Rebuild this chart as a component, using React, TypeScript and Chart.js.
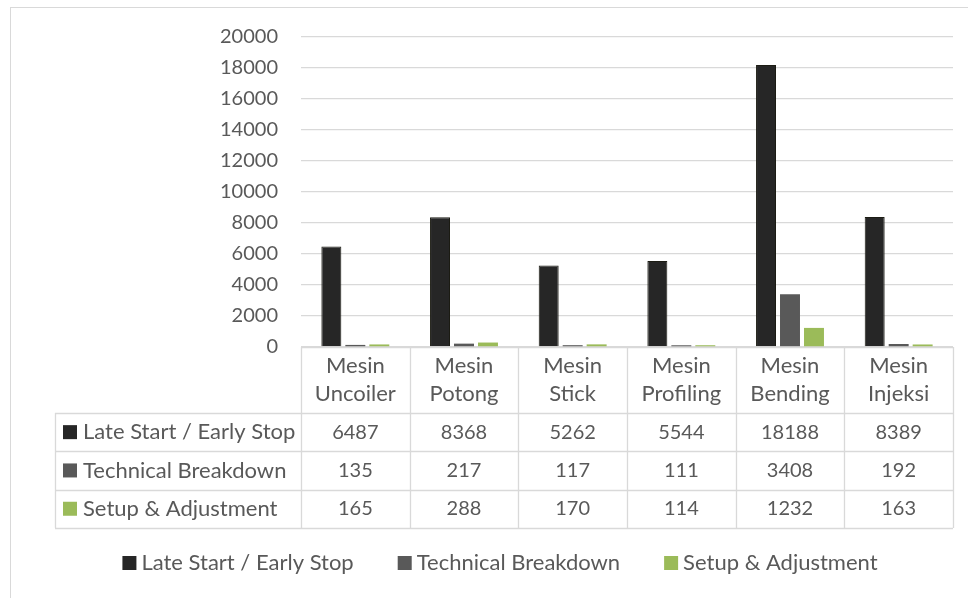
import { useEffect, useRef } from "react";
import { Chart, registerables } from "chart.js";

Chart.register(...registerables);

const categoryFirst = ["Mesin", "Mesin", "Mesin", "Mesin", "Mesin", "Mesin"];
const categorySecond = ["Uncoiler", "Potong", "Stick", "Profiling", "Bending", "Injeksi"];
const seriesNames = ["Late Start / Early Stop", "Technical Breakdown", "Setup & Adjustment"];
const lateStart = [6487, 8368, 5262, 5544, 18188, 8389];
const technicalBreakdown = [135, 217, 117, 111, 3408, 192];
const setupAdjustment = [165, 288, 170, 114, 1232, 163];
const seriesColors = ["#262626", "#595959", "#9bbb59"];
const yMin = 0;
const yMax = 20000;
const yStep = 2000;

const FONT = "Lato";
const TEXT = "#595959";
const GRID = "#d9d9d9";

const tablePlugin = {
  id: "dataTable",
  afterDraw(chart: any) {
    const { ctx, chartArea } = chart;
    const left = chartArea.left;
    const right = chartArea.right;
    const bottom = chartArea.bottom;
    const n = categorySecond.length;
    const w = (right - left) / n;
    const headerH = 66;
    const rowH = 38.3;
    const tableLeft = 55;
    const allSeries = [lateStart, technicalBreakdown, setupAdjustment];
    ctx.save();
    // outer frame
    ctx.strokeStyle = GRID;
    ctx.lineWidth = 1;
    ctx.strokeRect(10.5, 7.5, 1200, 900);

    ctx.strokeStyle = GRID;
    ctx.lineWidth = 1.3;
    const yEnd = bottom + headerH + rowH * 3;
    ctx.beginPath();
    ctx.moveTo(left, bottom + 0.5);
    ctx.lineTo(right, bottom + 0.5);
    for (let i = 0; i <= n; i++) {
      const x = Math.round(left + i * w) + 0.5;
      ctx.moveTo(x, bottom);
      ctx.lineTo(x, yEnd);
    }
    for (let r = 0; r <= 3; r++) {
      const y = Math.round(bottom + headerH + r * rowH) + 0.5;
      ctx.moveTo(tableLeft, y);
      ctx.lineTo(right, y);
    }
    ctx.moveTo(tableLeft + 0.5, bottom + headerH);
    ctx.lineTo(tableLeft + 0.5, yEnd);
    ctx.stroke();

    ctx.fillStyle = TEXT;
    ctx.textAlign = "center";
    ctx.textBaseline = "middle";
    for (let i = 0; i < n; i++) {
      const cx = left + (i + 0.5) * w;
      ctx.font = `22px ${FONT}`;
      ctx.fillText(categoryFirst[i], cx, bottom + 19);
      ctx.fillText(categorySecond[i], cx, bottom + 47);
      ctx.font = `20px ${FONT}`;
      for (let s = 0; s < 3; s++) {
        ctx.fillText(String(allSeries[s][i]), cx, bottom + headerH + rowH * (s + 0.5));
      }
    }
    ctx.textAlign = "left";
    ctx.font = `22px ${FONT}`;
    for (let s = 0; s < 3; s++) {
      const cy = bottom + headerH + rowH * (s + 0.5);
      ctx.fillStyle = seriesColors[s];
      ctx.fillRect(63, cy - 7, 14, 14);
      ctx.fillStyle = TEXT;
      ctx.fillText(seriesNames[s], 83, cy);
    }

    // bottom legend
    const ly = 563;
    const gap = 44;
    const widths = seriesNames.map((t) => 14 + 5 + ctx.measureText(t).width);
    const total = widths.reduce((a, b) => a + b, 0) + gap * 2;
    let lx = 500 - total / 2;
    for (let s = 0; s < 3; s++) {
      ctx.fillStyle = seriesColors[s];
      ctx.fillRect(lx, ly - 7, 14, 14);
      ctx.fillStyle = TEXT;
      ctx.fillText(seriesNames[s], lx + 19, ly);
      lx += widths[s] + gap;
    }
    ctx.restore();
  },
};

export default function App() {
  const ref = useRef<HTMLCanvasElement | null>(null);
  useEffect(() => {
    if (!ref.current) return;
    const chart = new Chart(ref.current, {
      type: "bar",
      data: {
        labels: categorySecond,
        datasets: [
          { label: seriesNames[0], data: lateStart, backgroundColor: seriesColors[0], borderColor: "#1c1c14", borderWidth: 1 },
          { label: seriesNames[1], data: technicalBreakdown, backgroundColor: seriesColors[1] },
          { label: seriesNames[2], data: setupAdjustment, backgroundColor: seriesColors[2] },
        ],
      },
      options: {
        responsive: false,
        animation: false,
        devicePixelRatio: 1,
        layout: { padding: { top: 37, right: 15, left: 0, bottom: 0 } },
        datasets: { bar: { barPercentage: 0.833, categoryPercentage: 0.662 } } as any,
        plugins: { legend: { display: false }, tooltip: { enabled: false } },
        scales: {
          x: {
            grid: { display: false },
            border: { display: false },
            ticks: { display: false },
            afterFit: (scale: any) => {
              scale.height = 251;
            },
          },
          y: {
            min: yMin,
            max: yMax,
            ticks: {
              stepSize: yStep,
              color: TEXT,
              font: { family: FONT, size: 20 },
              padding: 23,
              callback: (v: any) => String(v),
            },
            grid: { color: GRID, drawTicks: false, lineWidth: 1.3 },
            border: { display: false },
            afterFit: (scale: any) => {
              scale.width = 301;
            },
          },
        },
      },
      plugins: [tablePlugin],
    });
    return () => chart.destroy();
  }, []);
  return (
    <div style={{ position: "fixed", left: 0, top: 0, width: 968, height: 598, background: "#fff" }}>
      <canvas ref={ref} width={968} height={598} style={{ width: 968, height: 598 }} />
    </div>
  );
}
